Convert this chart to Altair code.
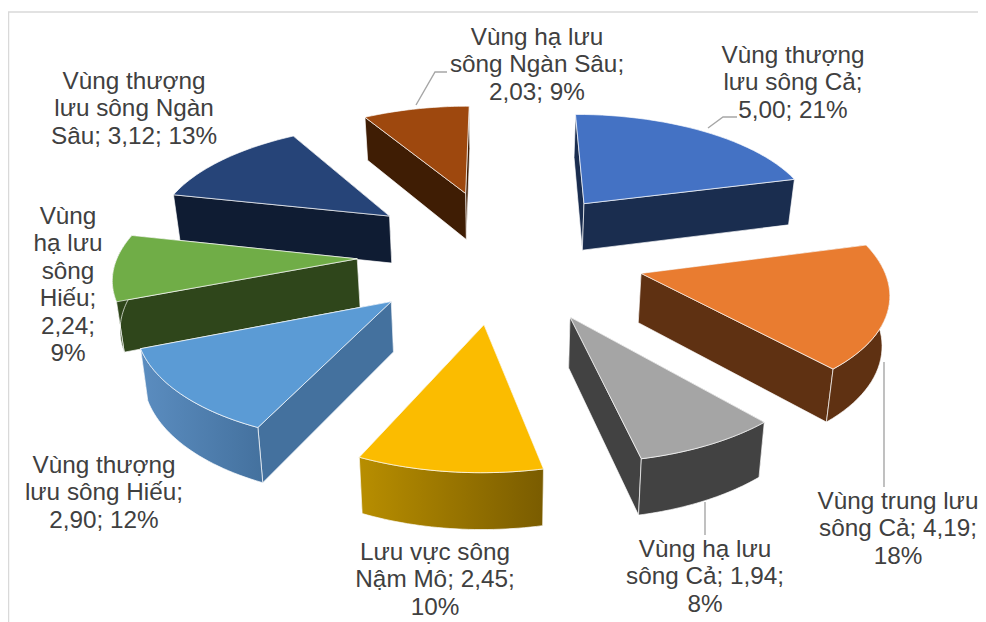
import math
import altair as alt
import pandas as pd

# ---- chart values
names = ["Vùng thượng lưu sông Cả", "Vùng trung lưu sông Cả", "Vùng hạ lưu sông Cả",
         "Lưu vực sông Nậm Mô", "Vùng thượng lưu sông Hiếu", "Vùng hạ lưu sông Hiếu",
         "Vùng thượng lưu sông Ngàn Sâu", "Vùng hạ lưu sông Ngàn Sâu"]
values = [5.00, 4.19, 1.94, 2.45, 2.90, 2.24, 3.12, 2.03]
percents = [21, 18, 8, 10, 12, 9, 13, 9]
label_texts = [
    "Vùng thượng\nlưu sông Cả;\n5,00; 21%",
    "Vùng trung lưu\nsông Cả; 4,19;\n18%",
    "Vùng hạ lưu\nsông Cả; 1,94;\n8%",
    "Lưu vực sông\nNậm Mô; 2,45;\n10%",
    "Vùng thượng\nlưu sông Hiếu;\n2,90; 12%",
    "Vùng\nhạ lưu\nsông\nHiếu;\n2,24;\n9%",
    "Vùng thượng\nlưu sông Ngàn\nSâu; 3,12; 13%",
    "Vùng hạ lưu\nsông Ngàn Sâu;\n2,03; 9%",
]
top_colors = ["#4472C4", "#E97C30", "#A5A5A5", "#FBBC00", "#5B9BD5", "#70AD47", "#264478", "#9E480E"]
wall_colors = ["#1A2D4F", "#5F3112", "#424242", "#B88E00", "#44719E", "#2F461B", "#0F1C33", "#3F1D04"]
wall_end_colors = [None, None, None, "#7A5C00", None, None, None, None]
wall_start_colors = [None, None, None, "#B88E00", "#5B8DC0", None, None, None]

# ---- layout of the drawing
label_x = [793, 898, 705, 435, 104, 68, 134, 537]
label_first_y = [56, 502, 550, 553, 466, 217, 82, 38]
LINE_H = 27.4
FONT_SIZE = 24.3
leaders = [[(708, 128), (723, 117), (737, 117)],
           [(884, 362), (884, 487)],
           [(705, 502), (705, 535)],
           [(416, 105), (435, 72), (447, 72)]]
CX, CY, A, B, K, EXPLODE, DEPTH, DEPTH_POW, SHRINK = 501, 253.5, 239, 111, 0.12, 0.6, 48.5, 0.75, 0.98
show_outer = [False, True, True, True, True, True, False, False]
draw_order = [0, 7, 6, 5, 4, 1, 2, 3]
W, H = 970, 614


def project(px, py, low=False):
    w = 1 - K * py
    x = CX + A * px / w
    y = CY + B * py / w
    if low:
        x = CX + (x - CX) * SHRINK
        y = y + DEPTH / w ** DEPTH_POW
    return x, y


total = sum(values)
angles = [0.0]
for v in values:
    angles.append(angles[-1] + v / total * 2 * math.pi)


def world(i, theta=None):
    mid = (angles[i] + angles[i + 1]) / 2
    ax, ay = EXPLODE * math.sin(mid), -EXPLODE * math.cos(mid)
    if theta is None:
        return ax, ay
    return ax + math.sin(theta), ay - math.cos(theta)


def arc_points(i, n=30):
    return [world(i, angles[i] + (angles[i + 1] - angles[i]) * j / n) for j in range(n + 1)]


x_scale = alt.Scale(domain=[8, 8 + W], nice=False, zero=False, padding=0)
y_scale = alt.Scale(domain=[8 + H, 8], nice=False, zero=False, padding=0)
X = alt.X("x:Q", scale=x_scale, axis=None)
Y = alt.Y("y:Q", scale=y_scale, axis=None)


def polygon(points, fill, stroke_w=0.9):
    pts = points + [points[0]]
    df = pd.DataFrame({"x": [p[0] for p in pts], "y": [p[1] for p in pts], "i": range(len(pts))})
    return alt.Chart(df).mark_line(fill=fill, stroke="#FFFFFF", strokeWidth=stroke_w,
                                   strokeOpacity=0.75, interpolate="linear").encode(
        x=X, y=Y, order="i:Q")


layers = []

# chart frame
frame = pd.DataFrame({"x": [8.5, 8.5, 978], "y": [622, 12, 12], "i": [0, 1, 2]})
layers.append(alt.Chart(frame).mark_line(color="#D9D9D9", strokeWidth=1.5).encode(x=X, y=Y, order="i:Q"))

for i in draw_order:
    apex = world(i)
    arc = arc_points(i)
    a_top, a_low = project(*apex), project(*apex, low=True)
    walls = []
    for corner in (arc[0], arc[-1]):
        walls.append((corner[1], [a_top, project(*corner), project(*corner, low=True), a_low]))
    walls.sort(key=lambda t: t[0])
    layers.append(polygon(walls[0][1], wall_colors[i]))
    layers.append(polygon(walls[1][1], wall_colors[i]))
    if show_outer[i]:
        ring = [project(*p) for p in arc] + [project(*p, low=True) for p in reversed(arc)]
        fill = wall_colors[i]
        if wall_start_colors[i]:
            fill = alt.Gradient(gradient="linear", x1=0, x2=1, y1=0, y2=0, stops=[
                alt.GradientStop(color=wall_start_colors[i], offset=0),
                alt.GradientStop(color=wall_end_colors[i] or wall_colors[i], offset=1)])
        layers.append(polygon(ring, fill))
    layers.append(polygon([a_top] + [project(*p) for p in arc], top_colors[i]))

for pts in leaders:
    df = pd.DataFrame({"x": [p[0] for p in pts], "y": [p[1] for p in pts], "i": range(len(pts))})
    layers.append(alt.Chart(df).mark_line(color="#A6A6A6", strokeWidth=1.4).encode(x=X, y=Y, order="i:Q"))

labels = pd.DataFrame({"name": names, "value": values, "pct": percents, "t": label_texts,
                       "x": label_x, "y": label_first_y})
layers.append(alt.Chart(labels).mark_text(
    font="Liberation Sans", fontSize=FONT_SIZE, color="#404040", align="center", baseline="middle",
    lineBreak="\n", lineHeight=LINE_H).encode(x=X, y=Y, text="t:N"))

chart = alt.layer(*layers).properties(width=W, height=H, padding=0,
                                      autosize=alt.AutoSizeParams(type="none")).configure_view(stroke=None)
chart.save("out.html", embed_options={"renderer": "svg", "actions": False})
